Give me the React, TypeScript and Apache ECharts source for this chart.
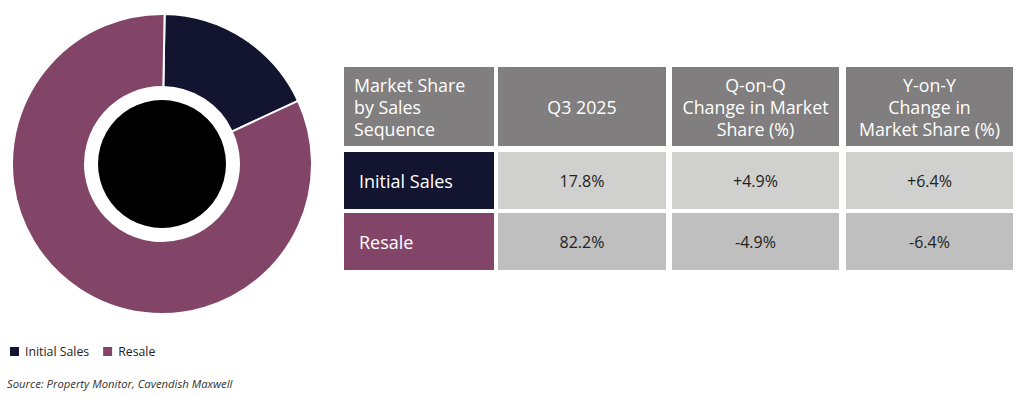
import React, { useEffect, useRef } from "react";
import * as echarts from "echarts";

const categories = ["Initial Sales", "Resale"];
const q3Share = [17.8, 82.2];
const qoqChange = [4.9, -4.9];
const yoyChange = [6.4, -6.4];
const headers = [
  "Market Share\nby Sales\nSequence",
  "Q3 2025",
  "Q-on-Q\nChange in Market\nShare (%)",
  "Y-on-Y\nChange in\nMarket Share (%)",
];
const colors = ["#13142f", "#834567"];
const sourceText = "Source: Property Monitor, Cavendish Maxwell";

const fmtChange = (v: number) => (v > 0 ? "+" : "") + v.toFixed(1) + "%";

export default function App() {
  const ref = useRef<HTMLDivElement>(null);
  useEffect(() => {
    if (!ref.current) return;
    const chart = echarts.init(ref.current, null, { renderer: "svg" });

    const font = "'Open Sans', Lato, sans-serif";
    const colX = [344, 498, 672, 846];
    const colW = [150, 168, 167, 167];
    const rowY = [67, 152, 213];
    const rowH = [79, 57, 57];
    const headerFill = "#807e7e";
    const rowFills = ["#d0d0ce", "#bfbfbf"];

    const g: any[] = [];
    headers.forEach((h, i) => {
      g.push({
        type: "rect",
        shape: { x: colX[i], y: rowY[0], width: colW[i], height: rowH[0] },
        style: { fill: headerFill },
        silent: true,
      });
      g.push({
        type: "text",
        x: i === 0 ? colX[i] + 10 : colX[i] + colW[i] / 2,
        y: rowY[0] + rowH[0] / 2,
        style: {
          text: h,
          fill: "#ffffff",
          font: `17.8px ${font}`,
          lineHeight: 22,
          align: i === 0 ? "left" : "center",
          verticalAlign: "middle",
        },
        silent: true,
      });
    });
    categories.forEach((c, r) => {
      const y = rowY[r + 1];
      const h = rowH[r + 1];
      g.push({
        type: "rect",
        shape: { x: colX[0], y, width: colW[0], height: h },
        style: { fill: colors[r] },
        silent: true,
      });
      g.push({
        type: "text",
        x: colX[0] + 15,
        y: y + h / 2,
        style: {
          text: c,
          fill: "#ffffff",
          font: `18px ${font}`,
          align: "left",
          verticalAlign: "middle",
        },
        silent: true,
      });
      const vals = [
        q3Share[r].toFixed(1) + "%",
        fmtChange(qoqChange[r]),
        fmtChange(yoyChange[r]),
      ];
      vals.forEach((v, k) => {
        const i = k + 1;
        g.push({
          type: "rect",
          shape: { x: colX[i], y, width: colW[i], height: h },
          style: { fill: rowFills[r] },
          silent: true,
        });
        g.push({
          type: "text",
          x: colX[i] + colW[i] / 2,
          y: y + h / 2,
          style: {
            text: v,
            fill: "#222222",
            font: `16px ${font}`,
            align: "center",
            verticalAlign: "middle",
          },
          silent: true,
        });
      });
    });
    g.push({
      type: "circle",
      shape: { cx: 162, cy: 164, r: 64 },
      style: { fill: "#000000" },
      silent: true,
    });
    g.push({
      type: "text",
      x: 7,
      y: 383,
      style: {
        text: sourceText,
        fill: "#333333",
        font: `italic 11.3px ${font}`,
        verticalAlign: "middle",
      },
      silent: true,
    });

    chart.setOption({
      animation: false,
      backgroundColor: "#ffffff",
      color: colors,
      legend: {
        left: 3,
        top: 340,
        icon: "rect",
        itemWidth: 11,
        itemHeight: 11,
        itemGap: 12,
        textStyle: { fontSize: 12.3, color: "#222222", fontFamily: font },
        data: categories,
      },
      series: [
        {
          type: "pie",
          center: [162, 164],
          radius: [77, 150],
          startAngle: 89,
          clockwise: true,
          label: { show: false },
          labelLine: { show: false },
          itemStyle: { borderColor: "#ffffff", borderWidth: 2 },
          emphasis: { disabled: true },
          data: categories.map((c, i) => ({ name: c, value: q3Share[i] })),
        },
      ],
      graphic: g,
    });
    return () => chart.dispose();
  }, []);
  return (
    <div
      ref={ref}
      style={{ position: "absolute", left: 0, top: 0, width: 1024, height: 398 }}
    />
  );
}
